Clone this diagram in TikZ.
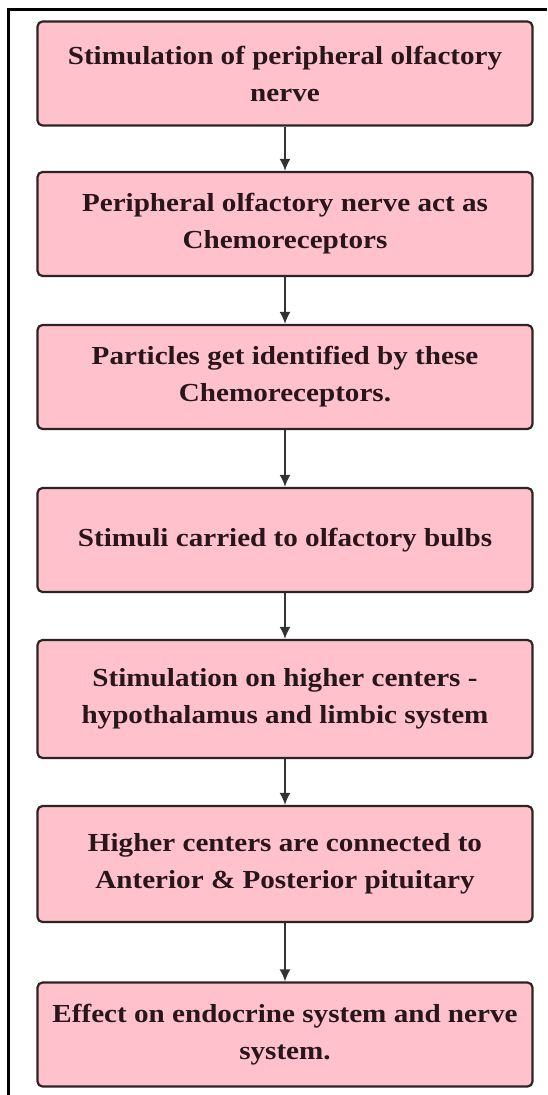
\documentclass[tikz,border=0pt]{standalone}
\usepackage{fontspec}
\setmainfont{Liberation Serif}[FakeStretch=1.12]
\usepackage{tikz}
\usetikzlibrary{arrows.meta}
\definecolor{boxpink}{RGB}{255,194,205}
\definecolor{boxline}{RGB}{45,35,35}
\definecolor{inkdark}{RGB}{40,22,26}
\begin{document}
\begin{tikzpicture}[x=1pt,y=-1pt]
  \def\cx{285}
  \def\h{104}

\tikzstyle{stepbox}=[rectangle,rounded corners=5pt,draw=boxline,line width=2.2pt,fill=boxpink,
  text=inkdark,font=\fontsize{26}{37}\selectfont\bfseries,align=center,
  minimum width=495pt,minimum height=\h pt,inner sep=0pt]
\tikzstyle{flow}=[-{Latex[length=12pt,width=11pt]},line width=1.8pt,draw=black!80]

\useasboundingbox (0,0) rectangle (547,1095);
% frame
\draw[line width=3pt] (8,1095) -- (8,9.5) -- (547,9.5);

\node[stepbox] (S1) at (\cx,73.5) {Stimulation of peripheral olfactory\\nerve};
\node[stepbox] (S2) at (\cx,224) {Peripheral olfactory nerve act as\\Chemoreceptors};
\draw[flow] (S1) -- (S2);
\node[stepbox] (S3) at (\cx,377) {Particles get identified by these\\Chemoreceptors.};
\draw[flow] (S2) -- (S3);
\node[stepbox] (S4) at (\cx,540) {Stimuli carried to olfactory bulbs};
\draw[flow] (S3) -- (S4);
\node[stepbox,minimum height=118pt] (S5) at (\cx,699) {Stimulation on higher centers -\\hypothalamus and limbic system};
\draw[flow] (S4) -- (S5);
\node[stepbox,minimum height=116pt] (S6) at (\cx,864) {Higher centers are connected to\\Anterior \& Posterior pituitary};
\draw[flow] (S5) -- (S6);
\node[stepbox] (S7) at (\cx,1034.5) {Effect on endocrine system and nerve\\system.};
\draw[flow] (S6) -- (S7);
\end{tikzpicture}
\end{document}
